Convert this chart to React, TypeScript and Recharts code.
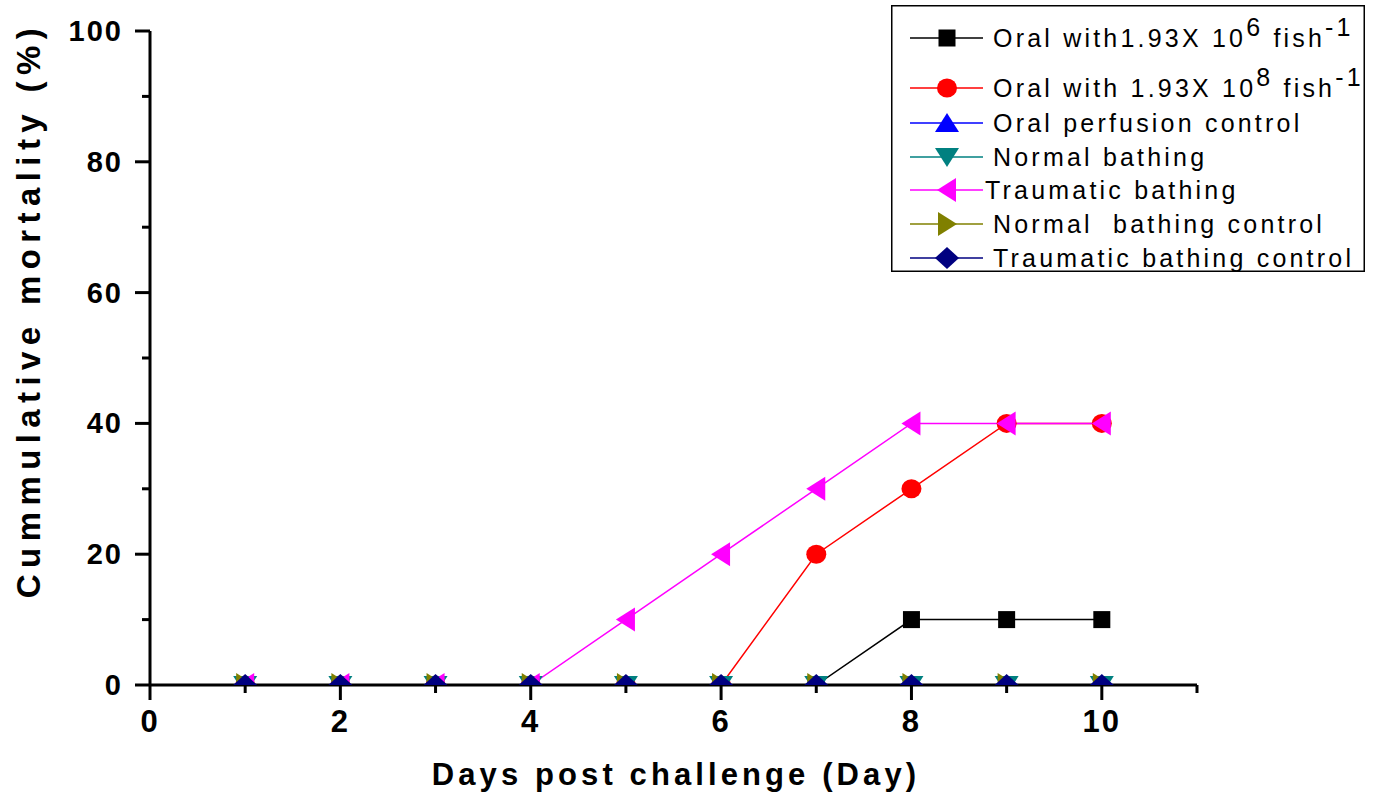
import { LineChart, Line, XAxis, YAxis, Legend, Label } from 'recharts'

const days = [1, 2, 3, 4, 5, 6, 7, 8, 9, 10]
const oral106 = [0, 0, 0, 0, 0, 0, 0, 10, 10, 10]
const oral108 = [0, 0, 0, 0, 0, 0, 20, 30, 40, 40]
const oralPerfusionControl = [0, 0, 0, 0, 0, 0, 0, 0, 0, 0]
const normalBathing = [0, 0, 0, 0, 0, 0, 0, 0, 0, 0]
const traumaticBathing = [0, 0, 0, 0, 10, 20, 30, 40, 40, 40]
const normalBathingControl = [0, 0, 0, 0, 0, 0, 0, 0, 0, 0]
const traumaticBathingControl = [0, 0, 0, 0, 0, 0, 0, 0, 0, 0]

const xTicks = [0, 1, 2, 3, 4, 5, 6, 7, 8, 9, 10, 11]
const yTicks = [0, 10, 20, 30, 40, 50, 60, 70, 80, 90, 100]

const FONT = '"Liberation Sans", Arial, sans-serif'

type Shape = 'square' | 'circle' | 'up' | 'down' | 'left' | 'right' | 'diamond'

interface SeriesDef {
  key: string
  color: string
  shape: Shape
}

const series: SeriesDef[] = [
  { key: 'oral106', color: '#000000', shape: 'square' },
  { key: 'oral108', color: '#ff0000', shape: 'circle' },
  { key: 'oralPerfusionControl', color: '#0000ff', shape: 'up' },
  { key: 'normalBathing', color: '#008080', shape: 'down' },
  { key: 'traumaticBathing', color: '#ff00ff', shape: 'left' },
  { key: 'normalBathingControl', color: '#808000', shape: 'right' },
  { key: 'traumaticBathingControl', color: '#000080', shape: 'diamond' },
]

const data = days.map((day, i) => ({
  day,
  oral106: oral106[i],
  oral108: oral108[i],
  oralPerfusionControl: oralPerfusionControl[i],
  normalBathing: normalBathing[i],
  traumaticBathing: traumaticBathing[i],
  normalBathingControl: normalBathingControl[i],
  traumaticBathingControl: traumaticBathingControl[i],
}))

function Marker({ shape, cx, cy, fill }: { shape: Shape; cx: number; cy: number; fill: string }) {
  switch (shape) {
    case 'square':
      return <rect x={cx - 8.5} y={cy - 8.5} width={17} height={17} fill={fill} />
    case 'circle':
      return <ellipse cx={cx} cy={cy} rx={10} ry={9.5} fill={fill} />
    case 'up':
      return <polygon points={`${cx},${cy - 10} ${cx + 12},${cy + 9} ${cx - 12},${cy + 9}`} fill={fill} />
    case 'down':
      return <polygon points={`${cx - 12},${cy - 9} ${cx + 12},${cy - 9} ${cx},${cy + 10}`} fill={fill} />
    case 'left':
      return <polygon points={`${cx - 10},${cy} ${cx + 9},${cy - 12} ${cx + 9},${cy + 12}`} fill={fill} />
    case 'right':
      return <polygon points={`${cx + 10},${cy} ${cx - 9},${cy - 12} ${cx - 9},${cy + 12}`} fill={fill} />
    default:
      return <polygon points={`${cx},${cy - 11} ${cx + 12},${cy} ${cx},${cy + 11} ${cx - 12},${cy}`} fill={fill} />
  }
}

// eslint-disable-next-line @typescript-eslint/no-explicit-any
function XTick({ x, y, payload }: any) {
  const v = payload.value
  const major = v % 2 === 0
  return (
    <g>
      <line x1={x} y1={y} x2={x} y2={y + (major ? 15 : 8)} stroke="#000" strokeWidth={3} />
      {major && (
        <text x={x} y={y + 47} textAnchor="middle" fontFamily={FONT} fontWeight="bold" fontSize={31} letterSpacing={2} fill="#000">
          {v}
        </text>
      )}
    </g>
  )
}

// eslint-disable-next-line @typescript-eslint/no-explicit-any
function YTick({ x, y, payload }: any) {
  const v = payload.value
  const major = v % 20 === 0
  return (
    <g>
      <line x1={x} y1={y} x2={x - (major ? 15 : 8)} y2={y} stroke="#000" strokeWidth={3} />
      {major && (
        <text x={x - 27} y={y + 10} textAnchor="end" fontFamily={FONT} fontWeight="bold" fontSize={29} letterSpacing={2} fill="#000">
          {v}
        </text>
      )}
    </g>
  )
}

// legend rows, y is relative to the legend box top
const legendRows = [
  { y: 33, textX: 102, base: 'Oral with1.93X 10', sup: '6' },
  { y: 83, textX: 102, base: 'Oral with 1.93X 10', sup: '8' },
  { y: 118, textX: 102, base: 'Oral perfusion control' },
  { y: 152, textX: 102, base: 'Normal bathing' },
  { y: 185, textX: 94, base: 'Traumatic bathing' },
  { y: 219, textX: 102, base: 'Normal  bathing control' },
  { y: 253, textX: 102, base: 'Traumatic bathing control' },
]

function LegendBox() {
  return (
    <svg width={474} height={267} style={{ display: 'block', overflow: 'visible' }}>
      <rect x={0.75} y={0.75} width={472.5} height={265.5} fill="#fff" stroke="#000" strokeWidth={1.5} />
      {legendRows.map((row, i) => (
        <g key={i}>
          <line x1={19} y1={row.y} x2={92} y2={row.y} stroke={series[i].color} strokeWidth={1.5} />
          <Marker shape={series[i].shape} cx={56} cy={row.y} fill={series[i].color} />
          <text x={row.textX} y={row.y + 9} fontFamily={FONT} fontSize={25} letterSpacing={3.2} fill="#000" style={{ whiteSpace: 'pre' }}>
            {row.base}
            {row.sup && (
              <>
                <tspan dy={-11} fontSize={25}>{row.sup}</tspan>
                <tspan dy={11}> fish</tspan>
                <tspan dy={-11} fontSize={25}>-1</tspan>
              </>
            )}
          </text>
        </g>
      ))}
    </svg>
  )
}

export default function App() {
  return (
    <div style={{ position: 'absolute', left: 0, top: 0, background: '#fff' }}>
      <LineChart width={1377} height={799} data={data} margin={{ top: 31, right: 180, left: 0, bottom: 0 }}>
        <XAxis
          dataKey="day"
          type="number"
          domain={[0, 11]}
          ticks={xTicks}
          interval={0}
          allowDataOverflow
          tickSize={0}
          tickMargin={0}
          tickLine={false}
          tick={<XTick />}
          axisLine={{ stroke: '#000', strokeWidth: 3 }}
          height={114}
        >
          <Label
            content={() => (
              <text x={676} y={785} textAnchor="middle" fontFamily={FONT} fontWeight="bold" fontSize={31} letterSpacing={4.1} fill="#000">
                Days post challenge (Day)
              </text>
            )}
          />
        </XAxis>
        <YAxis
          type="number"
          domain={[0, 100]}
          ticks={yTicks}
          interval={0}
          allowDataOverflow
          tickSize={0}
          tickMargin={0}
          tickLine={false}
          tick={<YTick />}
          axisLine={{ stroke: '#000', strokeWidth: 3 }}
          width={150}
        >
          <Label
            content={() => (
              <text
                x={40}
                y={310}
                transform="rotate(-90 40 310)"
                textAnchor="middle"
                fontFamily={FONT}
                fontWeight="bold"
                fontSize={33}
                letterSpacing={6.4}
                fill="#000"
              >
                Cummulative mortality (%)
              </text>
            )}
          />
        </YAxis>
        <Legend
          layout="vertical"
          align="center"
          verticalAlign="middle"
          width={474}
          height={267}
          wrapperStyle={{ top: 5, left: 891, width: 474, height: 267 }}
          content={() => <LegendBox />}
        />
        {series.map((s) => (
          <Line
            key={s.key}
            dataKey={s.key}
            stroke={s.color}
            strokeWidth={1.5}
            isAnimationActive={false}
            // eslint-disable-next-line @typescript-eslint/no-explicit-any
            dot={(p: any) => <Marker key={`${s.key}-${p.index}`} shape={s.shape} cx={p.cx} cy={p.cy} fill={s.color} />}
            activeDot={false}
          />
        ))}
      </LineChart>
    </div>
  )
}
